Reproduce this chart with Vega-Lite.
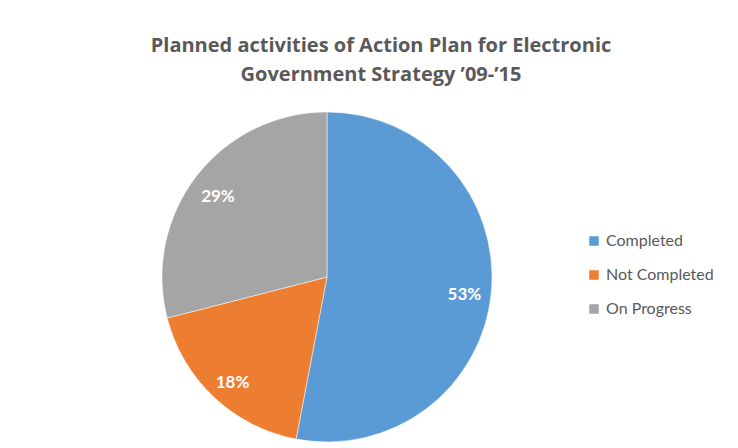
{
  "$schema": "https://vega.github.io/schema/vega-lite/v6.json",
  "autosize": "none",
  "padding": {"left": 162, "top": 112, "right": 246, "bottom": 6},
  "width": 330,
  "height": 330,
  "background": "white",
  "config": {"view": {"stroke": null}},
  "title": {
    "text": ["Planned activities of Action Plan for Electronic", "Government Strategy ’09-’15"],
    "font": "Open Sans",
    "fontSize": 20,
    "fontWeight": "bold",
    "color": "#595959",
    "anchor": "middle",
    "dx": 54,
    "offset": 26,
    "lineHeight": 29
  },
  "data": {
    "values": [
      {"status": "Completed", "share": 53},
      {"status": "Not Completed", "share": 18},
      {"status": "On Progress", "share": 29}
    ]
  },
  "encoding": {
    "theta": {"field": "share", "type": "quantitative", "stack": true},
    "order": {"field": "order", "type": "quantitative"}
  },
  "transform": [
    {"calculate": "indexof(['Completed','Not Completed','On Progress'], datum.status)", "as": "order"}
  ],
  "layer": [
    {
      "mark": {"type": "arc", "stroke": "white", "strokeWidth": 0.5},
      "encoding": {
        "color": {
          "field": "status",
          "type": "nominal",
          "sort": ["Completed", "Not Completed", "On Progress"],
          "scale": {"domain": ["Completed", "Not Completed", "On Progress"], "range": ["#5B9BD5", "#ED7D31", "#A5A5A5"]},
          "legend": {
            "title": null,
            "orient": "none",
            "legendX": 424,
            "legendY": 121,
            "symbolType": "square",
            "symbolSize": 90,
            "symbolStrokeWidth": 0,
            "labelFont": "Lato",
            "labelFontSize": 16,
            "labelColor": "#595959",
            "rowPadding": 18,
            "labelOffset": 4
          }
        }
      }
    },
    {
      "mark": {"type": "text", "radius": 138, "dy": 5, "font": "Lato", "fontSize": 17, "fontWeight": "bold", "color": "white"},
      "encoding": {
        "text": {"field": "label", "type": "nominal"}
      },
      "transform": [{"calculate": "datum.share + '%'", "as": "label"}]
    }
  ]
}
